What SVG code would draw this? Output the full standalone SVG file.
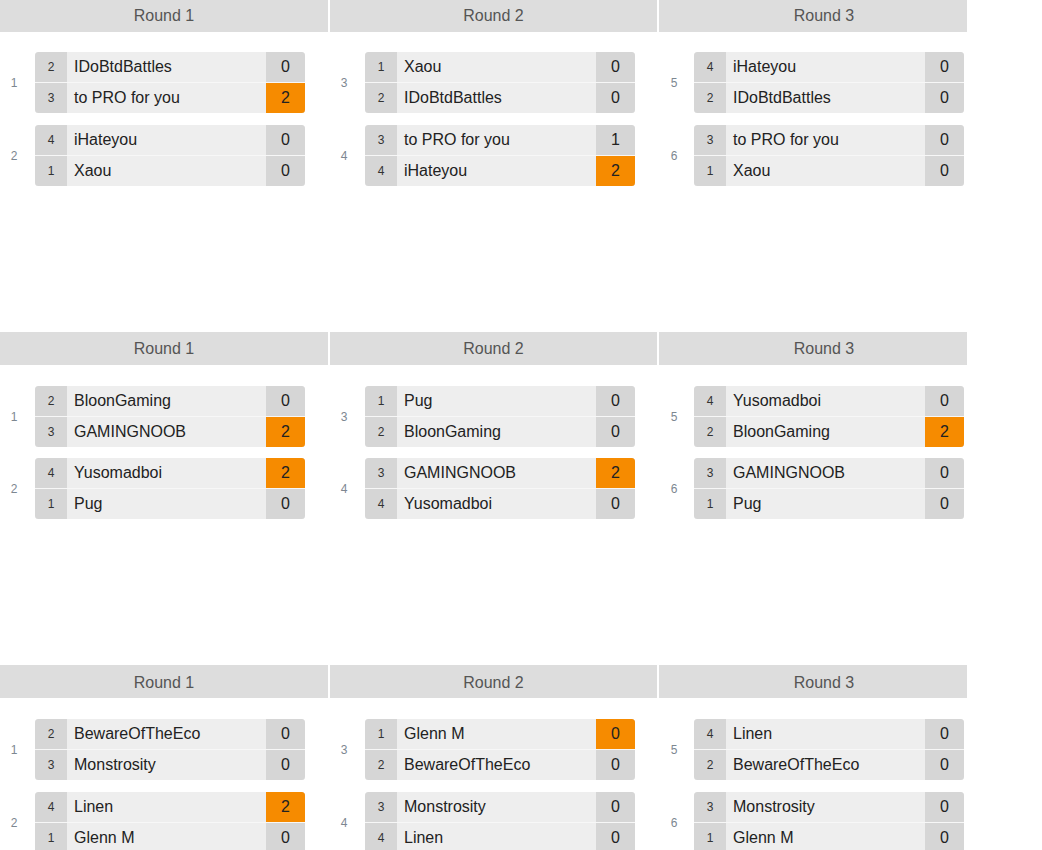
<svg xmlns="http://www.w3.org/2000/svg" width="1042" height="850" viewBox="0 0 1042 850">
<style>
text{font-family:"Liberation Sans",Arial,sans-serif}
.hd{fill:#dddddd}
.ht{font-size:16px;fill:#555555;text-anchor:middle}
.bg{fill:#eeeeee}
.cell{fill:#d6d6d6}
.win{fill:#f68b00}
.div{stroke:#f7f7f7;stroke-width:1.2}
.sd{font-size:12px;fill:#333333;text-anchor:middle}
.nm{font-size:16px;fill:#222222}
.sc{font-size:16px;fill:#222222;text-anchor:middle}
.mn{font-size:12px;fill:#7d8791;text-anchor:middle}
</style>
<defs>
<clipPath id="mc" clipPathUnits="userSpaceOnUse"><rect x="0" y="0" width="270" height="61" rx="3.5"/></clipPath>
</defs>
<rect width="1042" height="850" fill="#ffffff"/>

<g id="headers">
<rect class="hd" x="0" y="0" width="328" height="32"/><text class="ht" x="164" y="21">Round 1</text>
<rect class="hd" x="330" y="0" width="327" height="32"/><text class="ht" x="493.5" y="21">Round 2</text>
<rect class="hd" x="659" y="0" width="308" height="32"/><text class="ht" x="824" y="21">Round 3</text>
<rect class="hd" x="0" y="332" width="328" height="33"/><text class="ht" x="164" y="354">Round 1</text>
<rect class="hd" x="330" y="332" width="327" height="33"/><text class="ht" x="493.5" y="354">Round 2</text>
<rect class="hd" x="659" y="332" width="308" height="33"/><text class="ht" x="824" y="354">Round 3</text>
<rect class="hd" x="0" y="665" width="328" height="33"/><text class="ht" x="164" y="688">Round 1</text>
<rect class="hd" x="330" y="665" width="327" height="33"/><text class="ht" x="493.5" y="688">Round 2</text>
<rect class="hd" x="659" y="665" width="308" height="33"/><text class="ht" x="824" y="688">Round 3</text>
</g>

<g id="connectors"></g>

<!-- Bracket 1 -->
<g id="b1m1" transform="translate(35,52)">
<text class="mn" x="-21" y="34.5">1</text>
<g clip-path="url(#mc)"><rect class="bg" width="270" height="61"/><rect class="cell" width="32" height="61"/><rect class="cell" x="231" width="39" height="61"/><rect class="win" x="231" y="31" width="39" height="30"/><line class="div" x1="0" y1="30.5" x2="270" y2="30.5"/></g>
<text class="sd" x="16" y="18.5">2</text><text class="nm" x="39" y="19.5">IDoBtdBattles</text><text class="sc" x="250.5" y="19.5">0</text>
<text class="sd" x="16" y="49.5">3</text><text class="nm" x="39" y="50.5">to PRO for you</text><text class="sc" x="250.5" y="50.5">2</text>
</g>
<g id="b1m2" transform="translate(35,125)">
<text class="mn" x="-21" y="34.5">2</text>
<g clip-path="url(#mc)"><rect class="bg" width="270" height="61"/><rect class="cell" width="32" height="61"/><rect class="cell" x="231" width="39" height="61"/><line class="div" x1="0" y1="30.5" x2="270" y2="30.5"/></g>
<text class="sd" x="16" y="18.5">4</text><text class="nm" x="39" y="19.5">iHateyou</text><text class="sc" x="250.5" y="19.5">0</text>
<text class="sd" x="16" y="49.5">1</text><text class="nm" x="39" y="50.5">Xaou</text><text class="sc" x="250.5" y="50.5">0</text>
</g>
<g id="b1m3" transform="translate(365,52)">
<text class="mn" x="-21" y="34.5">3</text>
<g clip-path="url(#mc)"><rect class="bg" width="270" height="61"/><rect class="cell" width="32" height="61"/><rect class="cell" x="231" width="39" height="61"/><line class="div" x1="0" y1="30.5" x2="270" y2="30.5"/></g>
<text class="sd" x="16" y="18.5">1</text><text class="nm" x="39" y="19.5">Xaou</text><text class="sc" x="250.5" y="19.5">0</text>
<text class="sd" x="16" y="49.5">2</text><text class="nm" x="39" y="50.5">IDoBtdBattles</text><text class="sc" x="250.5" y="50.5">0</text>
</g>
<g id="b1m4" transform="translate(365,125)">
<text class="mn" x="-21" y="34.5">4</text>
<g clip-path="url(#mc)"><rect class="bg" width="270" height="61"/><rect class="cell" width="32" height="61"/><rect class="cell" x="231" width="39" height="61"/><rect class="win" x="231" y="31" width="39" height="30"/><line class="div" x1="0" y1="30.5" x2="270" y2="30.5"/></g>
<text class="sd" x="16" y="18.5">3</text><text class="nm" x="39" y="19.5">to PRO for you</text><text class="sc" x="250.5" y="19.5">1</text>
<text class="sd" x="16" y="49.5">4</text><text class="nm" x="39" y="50.5">iHateyou</text><text class="sc" x="250.5" y="50.5">2</text>
</g>
<g id="b1m5" transform="translate(694,52)">
<text class="mn" x="-20" y="34.5">5</text>
<g clip-path="url(#mc)"><rect class="bg" width="270" height="61"/><rect class="cell" width="32" height="61"/><rect class="cell" x="231" width="39" height="61"/><line class="div" x1="0" y1="30.5" x2="270" y2="30.5"/></g>
<text class="sd" x="16" y="18.5">4</text><text class="nm" x="39" y="19.5">iHateyou</text><text class="sc" x="250.5" y="19.5">0</text>
<text class="sd" x="16" y="49.5">2</text><text class="nm" x="39" y="50.5">IDoBtdBattles</text><text class="sc" x="250.5" y="50.5">0</text>
</g>
<g id="b1m6" transform="translate(694,125)">
<text class="mn" x="-20" y="34.5">6</text>
<g clip-path="url(#mc)"><rect class="bg" width="270" height="61"/><rect class="cell" width="32" height="61"/><rect class="cell" x="231" width="39" height="61"/><line class="div" x1="0" y1="30.5" x2="270" y2="30.5"/></g>
<text class="sd" x="16" y="18.5">3</text><text class="nm" x="39" y="19.5">to PRO for you</text><text class="sc" x="250.5" y="19.5">0</text>
<text class="sd" x="16" y="49.5">1</text><text class="nm" x="39" y="50.5">Xaou</text><text class="sc" x="250.5" y="50.5">0</text>
</g>

<!-- Bracket 2 -->
<g id="b2m1" transform="translate(35,386)">
<text class="mn" x="-21" y="34.5">1</text>
<g clip-path="url(#mc)"><rect class="bg" width="270" height="61"/><rect class="cell" width="32" height="61"/><rect class="cell" x="231" width="39" height="61"/><rect class="win" x="231" y="31" width="39" height="30"/><line class="div" x1="0" y1="30.5" x2="270" y2="30.5"/></g>
<text class="sd" x="16" y="18.5">2</text><text class="nm" x="39" y="19.5">BloonGaming</text><text class="sc" x="250.5" y="19.5">0</text>
<text class="sd" x="16" y="49.5">3</text><text class="nm" x="39" y="50.5">GAMINGNOOB</text><text class="sc" x="250.5" y="50.5">2</text>
</g>
<g id="b2m2" transform="translate(35,458)">
<text class="mn" x="-21" y="34.5">2</text>
<g clip-path="url(#mc)"><rect class="bg" width="270" height="61"/><rect class="cell" width="32" height="61"/><rect class="cell" x="231" width="39" height="61"/><rect class="win" x="231" y="0" width="39" height="30"/><line class="div" x1="0" y1="30.5" x2="270" y2="30.5"/></g>
<text class="sd" x="16" y="18.5">4</text><text class="nm" x="39" y="19.5">Yusomadboi</text><text class="sc" x="250.5" y="19.5">2</text>
<text class="sd" x="16" y="49.5">1</text><text class="nm" x="39" y="50.5">Pug</text><text class="sc" x="250.5" y="50.5">0</text>
</g>
<g id="b2m3" transform="translate(365,386)">
<text class="mn" x="-21" y="34.5">3</text>
<g clip-path="url(#mc)"><rect class="bg" width="270" height="61"/><rect class="cell" width="32" height="61"/><rect class="cell" x="231" width="39" height="61"/><line class="div" x1="0" y1="30.5" x2="270" y2="30.5"/></g>
<text class="sd" x="16" y="18.5">1</text><text class="nm" x="39" y="19.5">Pug</text><text class="sc" x="250.5" y="19.5">0</text>
<text class="sd" x="16" y="49.5">2</text><text class="nm" x="39" y="50.5">BloonGaming</text><text class="sc" x="250.5" y="50.5">0</text>
</g>
<g id="b2m4" transform="translate(365,458)">
<text class="mn" x="-21" y="34.5">4</text>
<g clip-path="url(#mc)"><rect class="bg" width="270" height="61"/><rect class="cell" width="32" height="61"/><rect class="cell" x="231" width="39" height="61"/><rect class="win" x="231" y="0" width="39" height="30"/><line class="div" x1="0" y1="30.5" x2="270" y2="30.5"/></g>
<text class="sd" x="16" y="18.5">3</text><text class="nm" x="39" y="19.5">GAMINGNOOB</text><text class="sc" x="250.5" y="19.5">2</text>
<text class="sd" x="16" y="49.5">4</text><text class="nm" x="39" y="50.5">Yusomadboi</text><text class="sc" x="250.5" y="50.5">0</text>
</g>
<g id="b2m5" transform="translate(694,386)">
<text class="mn" x="-20" y="34.5">5</text>
<g clip-path="url(#mc)"><rect class="bg" width="270" height="61"/><rect class="cell" width="32" height="61"/><rect class="cell" x="231" width="39" height="61"/><rect class="win" x="231" y="31" width="39" height="30"/><line class="div" x1="0" y1="30.5" x2="270" y2="30.5"/></g>
<text class="sd" x="16" y="18.5">4</text><text class="nm" x="39" y="19.5">Yusomadboi</text><text class="sc" x="250.5" y="19.5">0</text>
<text class="sd" x="16" y="49.5">2</text><text class="nm" x="39" y="50.5">BloonGaming</text><text class="sc" x="250.5" y="50.5">2</text>
</g>
<g id="b2m6" transform="translate(694,458)">
<text class="mn" x="-20" y="34.5">6</text>
<g clip-path="url(#mc)"><rect class="bg" width="270" height="61"/><rect class="cell" width="32" height="61"/><rect class="cell" x="231" width="39" height="61"/><line class="div" x1="0" y1="30.5" x2="270" y2="30.5"/></g>
<text class="sd" x="16" y="18.5">3</text><text class="nm" x="39" y="19.5">GAMINGNOOB</text><text class="sc" x="250.5" y="19.5">0</text>
<text class="sd" x="16" y="49.5">1</text><text class="nm" x="39" y="50.5">Pug</text><text class="sc" x="250.5" y="50.5">0</text>
</g>

<!-- Bracket 3 -->
<g id="b3m1" transform="translate(35,719)">
<text class="mn" x="-21" y="34.5">1</text>
<g clip-path="url(#mc)"><rect class="bg" width="270" height="61"/><rect class="cell" width="32" height="61"/><rect class="cell" x="231" width="39" height="61"/><line class="div" x1="0" y1="30.5" x2="270" y2="30.5"/></g>
<text class="sd" x="16" y="18.5">2</text><text class="nm" x="39" y="19.5">BewareOfTheEco</text><text class="sc" x="250.5" y="19.5">0</text>
<text class="sd" x="16" y="49.5">3</text><text class="nm" x="39" y="50.5">Monstrosity</text><text class="sc" x="250.5" y="50.5">0</text>
</g>
<g id="b3m2" transform="translate(35,792)">
<text class="mn" x="-21" y="34.5">2</text>
<g clip-path="url(#mc)"><rect class="bg" width="270" height="61"/><rect class="cell" width="32" height="61"/><rect class="cell" x="231" width="39" height="61"/><rect class="win" x="231" y="0" width="39" height="30"/><line class="div" x1="0" y1="30.5" x2="270" y2="30.5"/></g>
<text class="sd" x="16" y="18.5">4</text><text class="nm" x="39" y="19.5">Linen</text><text class="sc" x="250.5" y="19.5">2</text>
<text class="sd" x="16" y="49.5">1</text><text class="nm" x="39" y="50.5">Glenn M</text><text class="sc" x="250.5" y="50.5">0</text>
</g>
<g id="b3m3" transform="translate(365,719)">
<text class="mn" x="-21" y="34.5">3</text>
<g clip-path="url(#mc)"><rect class="bg" width="270" height="61"/><rect class="cell" width="32" height="61"/><rect class="cell" x="231" width="39" height="61"/><rect class="win" x="231" y="0" width="39" height="30"/><line class="div" x1="0" y1="30.5" x2="270" y2="30.5"/></g>
<text class="sd" x="16" y="18.5">1</text><text class="nm" x="39" y="19.5">Glenn M</text><text class="sc" x="250.5" y="19.5">0</text>
<text class="sd" x="16" y="49.5">2</text><text class="nm" x="39" y="50.5">BewareOfTheEco</text><text class="sc" x="250.5" y="50.5">0</text>
</g>
<g id="b3m4" transform="translate(365,792)">
<text class="mn" x="-21" y="34.5">4</text>
<g clip-path="url(#mc)"><rect class="bg" width="270" height="61"/><rect class="cell" width="32" height="61"/><rect class="cell" x="231" width="39" height="61"/><line class="div" x1="0" y1="30.5" x2="270" y2="30.5"/></g>
<text class="sd" x="16" y="18.5">3</text><text class="nm" x="39" y="19.5">Monstrosity</text><text class="sc" x="250.5" y="19.5">0</text>
<text class="sd" x="16" y="49.5">4</text><text class="nm" x="39" y="50.5">Linen</text><text class="sc" x="250.5" y="50.5">0</text>
</g>
<g id="b3m5" transform="translate(694,719)">
<text class="mn" x="-20" y="34.5">5</text>
<g clip-path="url(#mc)"><rect class="bg" width="270" height="61"/><rect class="cell" width="32" height="61"/><rect class="cell" x="231" width="39" height="61"/><line class="div" x1="0" y1="30.5" x2="270" y2="30.5"/></g>
<text class="sd" x="16" y="18.5">4</text><text class="nm" x="39" y="19.5">Linen</text><text class="sc" x="250.5" y="19.5">0</text>
<text class="sd" x="16" y="49.5">2</text><text class="nm" x="39" y="50.5">BewareOfTheEco</text><text class="sc" x="250.5" y="50.5">0</text>
</g>
<g id="b3m6" transform="translate(694,792)">
<text class="mn" x="-20" y="34.5">6</text>
<g clip-path="url(#mc)"><rect class="bg" width="270" height="61"/><rect class="cell" width="32" height="61"/><rect class="cell" x="231" width="39" height="61"/><line class="div" x1="0" y1="30.5" x2="270" y2="30.5"/></g>
<text class="sd" x="16" y="18.5">3</text><text class="nm" x="39" y="19.5">Monstrosity</text><text class="sc" x="250.5" y="19.5">0</text>
<text class="sd" x="16" y="49.5">1</text><text class="nm" x="39" y="50.5">Glenn M</text><text class="sc" x="250.5" y="50.5">0</text>
</g>
</svg>
